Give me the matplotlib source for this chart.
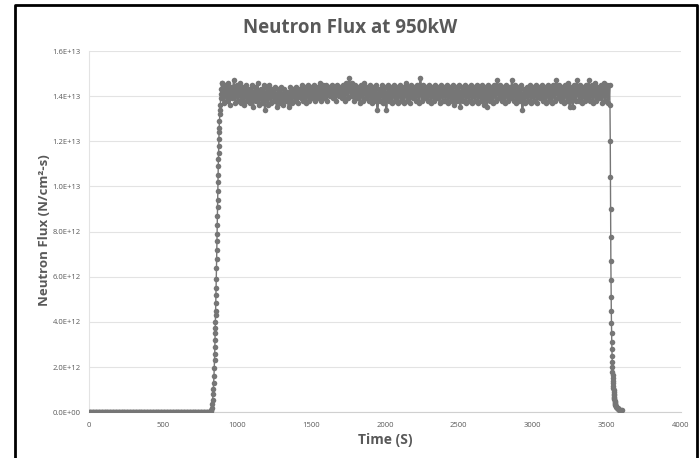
import numpy as np
import matplotlib
matplotlib.use("Agg")
import matplotlib.pyplot as plt
from matplotlib.ticker import FuncFormatter, MultipleLocator
from matplotlib.lines import Line2D

# --- data (flux in units of 1E12 N/cm2-s) ---
# reactor sitting at zero power before start-up, logged every 5 s
BASELINE_T0, BASELINE_DT = 0, 5
baseline_flux = [0.0] * 164

# start-up ramp
rise_time = [818, 822, 826, 830, 833, 836, 839, 841, 843, 845, 847, 849, 850,
             851, 852, 853, 854, 855, 856, 857, 858, 859, 860, 861, 862, 863,
             864, 865, 866, 867, 868, 869, 870, 871, 872, 873, 874, 875, 876,
             877, 878, 879, 880, 882, 884, 886, 888, 890, 892, 894, 896, 898]
rise_flux = [0.0, 0.05, 0.1, 0.2, 0.35, 0.55, 0.8, 1.05, 1.3, 1.6, 1.95, 2.3, 2.6,
             2.9, 3.2, 3.5, 3.75, 4.0, 4.3, 4.5, 4.85, 5.2, 5.5, 5.9, 6.4, 6.8,
             7.2, 7.6, 7.9, 8.3, 8.7, 9.1, 9.4, 9.8, 10.2, 10.5, 10.9, 11.2, 11.5,
             11.8, 12.1, 12.4, 12.6, 12.9, 13.2, 13.4, 13.6, 13.9, 14.3, 14.1, 14.6, 13.9]

# steady operation at 950 kW, logged every 10 s from 900 s
PLATEAU_T0, PLATEAU_DT = 900, 10
plateau_flux = [
    14.6, 13.7, 14.5, 13.8, 14.6, 13.6, 14.4, 13.9, 14.7, 13.7,
    14.5, 13.8, 14.6, 13.7, 14.4, 13.6, 14.5, 13.8, 14.3, 13.7,
    14.5, 13.5, 14.4, 13.8, 14.6, 13.6, 14.3, 13.7, 14.5, 13.4,
    14.4, 13.6, 14.5, 13.7, 14.3, 13.8, 14.4, 13.5, 14.3, 13.7,
    14.4, 13.6, 14.3, 13.8, 14.2, 13.5, 14.4, 13.7, 14.3, 13.8,
    14.4, 13.7, 14.3, 13.9, 14.5, 13.8, 14.4, 13.7, 14.5, 13.8,
    14.4, 13.9, 14.5, 13.8, 14.4, 13.9, 14.6, 13.8, 14.5, 13.9,
    14.5, 13.8, 14.4, 14.0, 14.5, 13.9, 14.4, 13.8, 14.5, 14.0,
    14.4, 13.9, 14.5, 13.8, 14.6, 13.9, 14.8, 14.0, 14.6, 13.8,
    14.5, 13.9, 14.4, 13.7, 14.5, 13.8, 14.6, 13.9, 14.4, 13.8,
    14.5, 13.7, 14.4, 13.8, 14.5, 13.4, 14.3, 13.8, 14.5, 13.7,
    14.4, 13.4, 14.5, 13.8, 14.4, 13.7, 14.5, 13.8, 14.4, 13.7,
    14.5, 13.8, 14.4, 13.7, 14.6, 13.8, 14.4, 13.7, 14.5, 13.9,
    14.4, 13.8, 14.5, 13.7, 14.8, 13.8, 14.5, 13.9, 14.4, 13.8,
    14.5, 13.7, 14.4, 13.8, 14.5, 13.9, 14.4, 13.7, 14.5, 13.8,
    14.4, 13.8, 14.5, 13.7, 14.4, 13.8, 14.5, 13.6, 14.4, 13.8,
    14.5, 13.5, 14.4, 13.8, 14.5, 13.7, 14.4, 13.8, 14.5, 13.7,
    14.4, 13.8, 14.5, 13.7, 14.4, 13.8, 14.5, 13.6, 14.4, 13.5,
    14.5, 13.8, 14.4, 13.7, 14.5, 13.8, 14.7, 13.9, 14.5, 13.8,
    14.4, 13.7, 14.5, 13.8, 14.4, 13.9, 14.7, 13.8, 14.5, 13.7,
    14.4, 13.8, 14.5, 13.4, 14.3, 13.7, 14.4, 13.8, 14.5, 13.7,
    14.4, 13.8, 14.5, 13.7, 14.4, 13.9, 14.5, 13.8, 14.4, 13.7,
    14.5, 13.8, 14.4, 13.7, 14.5, 13.8, 14.7, 13.9, 14.5, 13.8,
    14.4, 13.7, 14.5, 13.8, 14.6, 13.5, 14.4, 13.5, 14.5, 13.8,
    14.7, 13.8, 14.5, 13.7, 14.4, 13.8, 14.5, 13.9, 14.7, 13.8,
    14.5, 13.7, 14.6, 13.8, 14.4, 13.9, 14.5, 13.7, 14.6, 13.8,
    14.5, 13.7, 14.5,
]

# scram and decay
fall_time = [3522, 3524, 3525, 3526, 3527, 3528, 3529, 3530, 3531, 3532, 3533,
             3534, 3535, 3536, 3537, 3538, 3539, 3540, 3541, 3542, 3543, 3544,
             3545, 3546, 3547, 3548, 3549, 3550, 3551, 3552, 3553, 3554, 3555,
             3557, 3559, 3562, 3565, 3569, 3573, 3578, 3583, 3589, 3595, 3600]
fall_flux = [13.6, 12.0, 10.4, 9.0, 7.75, 6.7, 5.85, 5.1, 4.5, 3.97, 3.53,
             3.13, 2.8, 2.5, 2.24, 2.02, 1.8, 1.65, 1.52, 1.40, 1.29, 1.18,
             1.08, 0.99, 0.91, 0.83, 0.76, 0.69, 0.63, 0.57, 0.52, 0.47, 0.43,
             0.38, 0.33, 0.28, 0.24, 0.20, 0.17, 0.14, 0.12, 0.10, 0.09, 0.08]

TITLE = "Neutron Flux at 950kW"
XLABEL = "Time (S)"
YLABEL = "Neutron Flux (N/cm\u00b2-s)"

# --- assemble series ---
baseline_time = BASELINE_T0 + BASELINE_DT * np.arange(len(baseline_flux))
plateau_time = PLATEAU_T0 + PLATEAU_DT * np.arange(len(plateau_flux))
time = np.concatenate([baseline_time, rise_time, plateau_time, fall_time])
flux = np.concatenate([baseline_flux, rise_flux, plateau_flux, fall_flux]) * 1e12

plt.rcParams['font.family'] = ['Open Sans', 'DejaVu Sans']
text_grey = '#595959'
series_grey = '#767676'

fig = plt.figure(figsize=(7, 4.58), dpi=100)
ax = fig.add_axes([0.1271, 0.0998, 0.8453, 0.7888])

ax.plot(time, flux, color=series_grey, lw=1.0, marker='o', ms=4.0,
        markeredgewidth=0, zorder=3)
# the noisy steady-state section is so dense it reads as a solid band
ax.plot(plateau_time, np.array(plateau_flux) * 1e12, color=series_grey, lw=1.7,
        zorder=3)

ax.set_xlim(0, 4000)
ax.set_ylim(0, 1.6e13)
ax.xaxis.set_major_locator(MultipleLocator(500))
ax.yaxis.set_major_locator(MultipleLocator(2e12))
ax.yaxis.set_major_formatter(FuncFormatter(lambda v, _: f"{v:.1E}"))
ax.tick_params(axis='both', length=0, labelsize=5.5, labelcolor=text_grey)
ax.tick_params(axis='x', pad=7)
ax.tick_params(axis='y', pad=6)

ax.grid(axis='y', color='#e3e3e3', lw=0.8)
ax.set_axisbelow(True)
for side in ['top', 'right']:
    ax.spines[side].set_visible(False)
ax.spines['left'].set_color('#e3e3e3')
ax.spines['bottom'].set_color('#d0d0d0')
ax.spines['left'].set_linewidth(0.8)
ax.spines['bottom'].set_linewidth(0.8)

fig.text(0.5, 1 - 28 / 458, TITLE, ha='center', va='center', fontsize=13.5,
         fontweight='bold', color=text_grey)
fig.text(385 / 700, 1 - 440 / 458, XLABEL, ha='center', va='center', fontsize=10,
         fontweight='bold', color=text_grey)
fig.text(45 / 700, 1 - 230 / 458, YLABEL, ha='center', va='center', fontsize=9.5,
         fontweight='bold', color=text_grey, rotation=90)

# black frame around the chart (left, top and right edges)
fx = [15 / 700, 15 / 700, 697 / 700, 697 / 700]
fy = [0.0, 1 - 5 / 458, 1 - 5 / 458, 0.0]
fig.add_artist(Line2D(fx, fy, color='black', lw=2, transform=fig.transFigure))

fig.savefig('out.png', dpi=100)
